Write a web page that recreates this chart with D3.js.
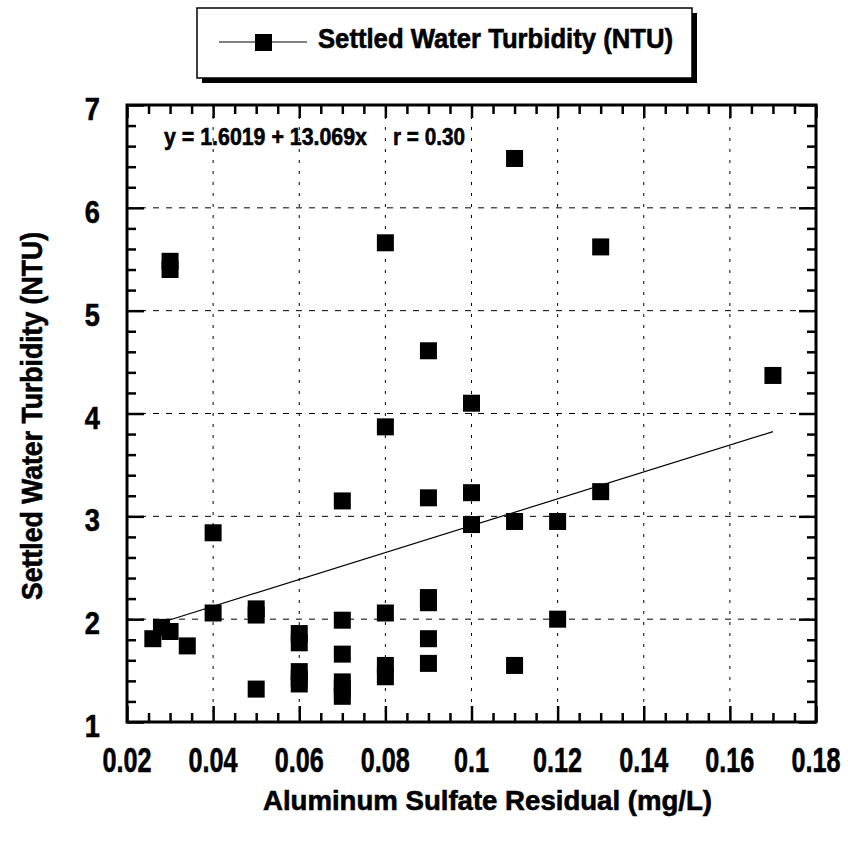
<!DOCTYPE html>
<html>
<head>
<meta charset="utf-8">
<script src="https://cdn.jsdelivr.net/npm/d3@7"></script>
<style>
html,body{margin:0;padding:0;background:#fff;}
svg{display:block;}
text{font-family:"Liberation Sans",Arial,Helvetica,sans-serif;font-weight:bold;fill:#000;stroke:#000;stroke-width:0.6px;}
</style>
</head>
<body>
<svg id="chart" width="848" height="846"></svg>
<script>
// ---- data ----
const alumResidual = [0.026,0.028,0.030,0.034,0.030,0.030,0.040,0.040,0.050,0.050,0.050,
  0.060,0.060,0.060,0.060,0.060,0.070,0.070,0.070,0.070,0.070,0.070,
  0.080,0.080,0.080,0.080,0.080,0.090,0.090,0.090,0.090,0.090,0.090,
  0.100,0.100,0.100,0.110,0.110,0.110,0.120,0.120,0.130,0.130,0.170];
const turbidity = [1.81,1.92,1.88,1.74,5.48,5.40,2.06,2.84,2.10,2.04,1.32,
  1.86,1.77,1.49,1.42,1.37,3.15,1.99,1.66,1.39,1.32,1.25,
  5.66,3.87,2.06,1.55,1.44,4.61,3.18,2.21,2.16,1.81,1.57,
  4.10,3.23,2.92,6.48,2.95,1.55,2.95,2.00,5.62,3.24,4.37];
const fitIntercept = 1.6019;
const fitSlope = 13.069;
const fitRange = [0.028, 0.170];
const xTickValues = [0.02,0.04,0.06,0.08,0.1,0.12,0.14,0.16,0.18];
const xTickLabels = ["0.02","0.04","0.06","0.08","0.1","0.12","0.14","0.16","0.18"];
const yTickValues = [1,2,3,4,5,6,7];
const yTickLabels = ["1","2","3","4","5","6","7"];
const seriesName = "Settled Water Turbidity (NTU)";
const xTitle = "Aluminum Sulfate Residual (mg/L)";
const yTitle = "Settled Water Turbidity (NTU)";
const eqText = "y = 1.6019 + 13.069x";
const rText = "r = 0.30";

// ---- layout ----
const L = 127, R = 816, T = 105, B = 722;
const svg = d3.select("#chart");
const x = d3.scaleLinear().domain([0.02, 0.18]).range([L, R]);
const y = d3.scaleLinear().domain([1, 7]).range([B, T]);

const xMinor = d3.range(0, 33).map(i => 0.02 + i * 0.005).filter(v => v < 0.1799 && Math.abs((v*100) % 2) > 0.01 && Math.abs((v*100)%2 - 2) > 0.01);
const yMinor = d3.range(0, 31).map(i => 1 + i * 0.2).filter(v => Math.abs(v - Math.round(v)) > 0.01);

// grid
const g = svg.append("g");
g.selectAll("line.hgrid").data(yTickValues.slice(1, -1)).join("line")
  .attr("x1", L).attr("x2", R).attr("y1", d => y(d)).attr("y2", d => y(d))
  .attr("stroke", "#000").attr("stroke-width", 1).attr("stroke-dasharray", "6,7");
g.selectAll("line.vgrid").data(xTickValues.slice(1, -1)).join("line")
  .attr("y1", T).attr("y2", B).attr("x1", d => x(d)).attr("x2", d => x(d))
  .attr("stroke", "#000").attr("stroke-width", 1).attr("stroke-dasharray", "3,8");

// ticks via d3 axes (inside)
function styleAxis(sel){
  sel.select(".domain").remove();
  sel.selectAll(".tick text").remove();
  sel.selectAll(".tick line").attr("stroke", "#000").attr("stroke-width", 2.5);
}
svg.append("g").attr("transform", `translate(0,${B})`)
  .call(d3.axisBottom(x).tickValues(xTickValues).tickSize(-16)).call(styleAxis);
svg.append("g").attr("transform", `translate(0,${B})`)
  .call(d3.axisBottom(x).tickValues(xMinor).tickSize(-9)).call(styleAxis);
svg.append("g").attr("transform", `translate(0,${T})`)
  .call(d3.axisTop(x).tickValues(xTickValues).tickSize(-13)).call(styleAxis);
svg.append("g").attr("transform", `translate(0,${T})`)
  .call(d3.axisTop(x).tickValues(xMinor).tickSize(-9)).call(styleAxis);
svg.append("g").attr("transform", `translate(${L},0)`)
  .call(d3.axisLeft(y).tickValues(yTickValues).tickSize(-17)).call(styleAxis);
svg.append("g").attr("transform", `translate(${L},0)`)
  .call(d3.axisLeft(y).tickValues(yMinor).tickSize(-9)).call(styleAxis);
svg.append("g").attr("transform", `translate(${R},0)`)
  .call(d3.axisRight(y).tickValues(yTickValues).tickSize(-17)).call(styleAxis);
svg.append("g").attr("transform", `translate(${R},0)`)
  .call(d3.axisRight(y).tickValues(yMinor).tickSize(-9)).call(styleAxis);

// frame
svg.append("rect").attr("x", L).attr("y", T).attr("width", R - L).attr("height", B - T)
  .attr("fill", "none").attr("stroke", "#000").attr("stroke-width", 3);

// regression line
svg.append("line")
  .attr("x1", x(fitRange[0])).attr("y1", y(fitIntercept + fitSlope * fitRange[0]))
  .attr("x2", x(fitRange[1])).attr("y2", y(fitIntercept + fitSlope * fitRange[1]))
  .attr("stroke", "#000").attr("stroke-width", 1.2);

// points
const S = 17;
svg.append("g").selectAll("rect").data(alumResidual.map((v, i) => [v, turbidity[i]])).join("rect")
  .attr("x", d => x(d[0]) - S / 2).attr("y", d => y(d[1]) - S / 2)
  .attr("width", S).attr("height", S).attr("fill", "#000");

// tick labels
svg.append("g").selectAll("text").data(xTickValues).join("text")
  .attr("transform", d => `translate(${x(d)},772) scale(0.72,1)`)
  .attr("text-anchor", "middle").attr("font-size", 35)
  .text((d, i) => xTickLabels[i]);
svg.append("g").selectAll("text").data(yTickValues).join("text")
  .attr("transform", d => `translate(100,${y(d) + 15}) scale(0.85,1)`)
  .attr("text-anchor", "end").attr("font-size", 32)
  .text((d, i) => yTickLabels[i]);

// annotation
svg.append("text").attr("x", 164).attr("y", 145).attr("font-size", 24)
  .attr("textLength", 203).attr("lengthAdjust", "spacingAndGlyphs").text(eqText);
svg.append("text").attr("x", 393).attr("y", 145).attr("font-size", 24)
  .attr("textLength", 72).attr("lengthAdjust", "spacingAndGlyphs").text(rText);

// axis titles
svg.append("text").attr("x", 263).attr("y", 810).attr("font-size", 28)
  .attr("textLength", 449).attr("lengthAdjust", "spacingAndGlyphs").text(xTitle);
svg.append("text").attr("transform", "translate(42,600) rotate(-90)").attr("font-size", 29)
  .attr("textLength", 368).attr("lengthAdjust", "spacingAndGlyphs").text(yTitle);

// legend
const lg = svg.append("g");
lg.append("rect").attr("x", 202).attr("y", 13).attr("width", 495).attr("height", 70).attr("fill", "#000");
lg.append("rect").attr("x", 197).attr("y", 8).attr("width", 495).attr("height", 70)
  .attr("fill", "#fff").attr("stroke", "#000").attr("stroke-width", 1.5);
lg.append("line").attr("x1", 219).attr("x2", 307).attr("y1", 42).attr("y2", 42)
  .attr("stroke", "#000").attr("stroke-width", 1);
lg.append("rect").attr("x", 255).attr("y", 34).attr("width", 17).attr("height", 17).attr("fill", "#000");
lg.append("text").attr("x", 318).attr("y", 48).attr("font-size", 28)
  .attr("textLength", 355).attr("lengthAdjust", "spacingAndGlyphs").text(seriesName);
</script>
</body>
</html>
